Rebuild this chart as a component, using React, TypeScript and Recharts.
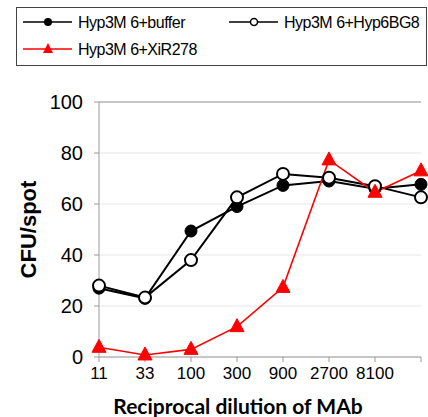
import React from "react";
import { LineChart, Line, XAxis, YAxis, CartesianGrid, ReferenceLine } from "recharts";

// reciprocal dilutions (last point has no tick label in the original)
const dilutions = ["11", "33", "100", "300", "900", "2700", "8100", ""];
const bufferValues = [27, 23, 49.4, 59, 67.3, 69, 66, 67.7];
const hyp6bg8Values = [28, 23.3, 38, 62.6, 71.8, 70.3, 67, 62.6];
const xir278Values = [3.8, 0.8, 3, 11.9, 27.3, 77.3, 64.6, 73];
const yTicks = [0, 20, 40, 60, 80, 100];

const series = [
  { key: "buffer", name: "Hyp3M 6+buffer", color: "#000000", marker: "filled" },
  { key: "hyp6bg8", name: "Hyp3M 6+Hyp6BG8", color: "#000000", marker: "open" },
  { key: "xir278", name: "Hyp3M 6+XiR278", color: "#ff0000", marker: "triangle" },
];

const data = dilutions.map((d, i) => ({
  dil: d,
  buffer: bufferValues[i],
  hyp6bg8: hyp6bg8Values[i],
  xir278: xir278Values[i],
}));

const FONT = "Liberation Sans, Arial, sans-serif";

function Triangle({ cx, cy, color }: { cx: number; cy: number; color: string }) {
  return <path d={`M${cx},${cy - 8} L${cx - 7},${cy + 5} L${cx + 7},${cy + 5} Z`} fill={color} stroke={color} />;
}

function Marker({ type, x, y, color }: { type: string; x: number; y: number; color: string }) {
  if (type === "filled") return <circle cx={x} cy={y} r={4} fill="#000" />;
  if (type === "open") return <circle cx={x} cy={y} r={3.5} fill="#fff" stroke="#000" strokeWidth={1.5} />;
  return <path d={`M${x},${y - 6} L${x - 5},${y + 4} L${x + 5},${y + 4} Z`} fill={color} />;
}

function LegendBox() {
  const pos = [
    { x: 23, y: 22 },
    { x: 229, y: 22 },
    { x: 23, y: 49 },
  ];
  return (
    <svg width={428} height={70} style={{ position: "absolute", left: 0, top: 0 }}>
      <rect x={16.5} y={7.5} width={410} height={58} fill="#fff" stroke="#444" strokeWidth={1} />
      {series.map((s, i) => (
        <g key={s.key}>
          <line x1={pos[i].x} x2={pos[i].x + 49} y1={pos[i].y} y2={pos[i].y} stroke={s.color} strokeWidth={1.5} />
          <Marker type={s.marker} x={pos[i].x + 25} y={pos[i].y} color={s.color} />
          <text
            x={pos[i].x + 55}
            y={pos[i].y + 6}
            fontSize={16}
            letterSpacing={-0.5}
            fontFamily={FONT}
            fill="#000"
          >
            {s.name}
          </text>
        </g>
      ))}
    </svg>
  );
}

export default function App() {
  return (
    <div style={{ position: "absolute", left: 0, top: 0, width: 428, height: 417, background: "#fff" }}>
      <LineChart width={428} height={417} data={data} margin={{ top: 102, right: 7, left: 0, bottom: 0 }}>
        <CartesianGrid vertical={false} stroke="#e6e6e6" />
        <XAxis
          dataKey="dil"
          interval={0}
          padding={{ left: 0, right: 0 }}
          height={60}
          stroke="#999"
          tickSize={5}
          tickMargin={5}
          tick={{ fontSize: 17, fill: "#000", fontFamily: FONT }}
          label={{
            value: "Reciprocal dilution of MAb",
            position: "insideBottom",
            offset: 3,
            dx: -22,
            style: { fontSize: 21, fontWeight: "bold", fill: "#000", fontFamily: "Lato, sans-serif" },
          }}
        />
        <YAxis
          domain={[0, 100]}
          ticks={yTicks}
          width={99}
          stroke="#999"
          tickSize={5}
          tickMargin={11}
          tick={{ fontSize: 20, fill: "#000", fontFamily: FONT }}
          label={{
            value: "CFU/spot",
            angle: -90,
            position: "insideLeft",
            offset: 28,
            style: { textAnchor: "middle", fontSize: 22, fontWeight: "bold", fill: "#000", fontFamily: FONT },
          }}
        />
        <YAxis yAxisId="right" orientation="right" width={0} domain={[0, 100]} tick={false} tickLine={false} stroke="#999" />
        <ReferenceLine y={100} stroke="#999" />
        <Line
          dataKey="buffer"
          name={series[0].name}
          stroke="#000"
          strokeWidth={2}
          dot={{ r: 6, fill: "#000", stroke: "#000", strokeWidth: 1 }}
          isAnimationActive={false}
        />
        <Line
          dataKey="hyp6bg8"
          name={series[1].name}
          stroke="#000"
          strokeWidth={2}
          dot={{ r: 6, fill: "#fff", stroke: "#000", strokeWidth: 2 }}
          isAnimationActive={false}
        />
        <Line
          dataKey="xir278"
          name={series[2].name}
          stroke="#ff0000"
          strokeWidth={1.6}
          dot={(p: any) => <Triangle key={`tri-${p.index}`} cx={p.cx} cy={p.cy} color="#ff0000" />}
          isAnimationActive={false}
        />
      </LineChart>
      <LegendBox />
    </div>
  );
}
